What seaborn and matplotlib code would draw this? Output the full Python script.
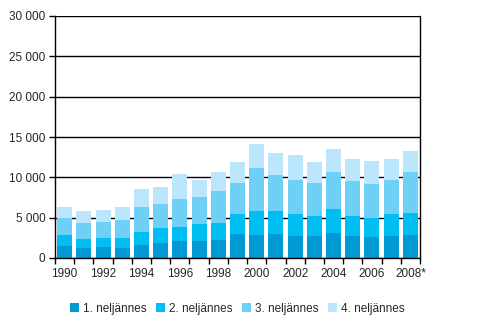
import matplotlib
matplotlib.use("Agg")
import matplotlib.pyplot as plt
import seaborn as sns
import numpy as np
import pandas as pd
from matplotlib.patches import Patch
from matplotlib.ticker import FuncFormatter, FixedLocator

years = [str(y) for y in range(1990, 2008)] + ["2008*"]
q1 = [1490, 1240, 1365, 1240, 1610, 1860, 2110, 2110, 2230, 2975, 2850, 2975, 2730, 2730, 3100, 2730, 2600, 2730, 2850]
q2 = [1360, 1115, 1115, 1240, 1610, 1860, 1730, 2100, 2110, 2480, 2980, 2855, 2725, 2480, 2970, 2480, 2360, 2725, 2730]
q3 = [2110, 1985, 1980, 2230, 3100, 2970, 3470, 3350, 3970, 3845, 5330, 4460, 4215, 4090, 4590, 4335, 4210, 4215, 5080]
q4 = [1360, 1490, 1490, 1610, 2230, 2110, 3100, 2110, 2350, 2600, 2975, 2730, 3100, 2600, 2850, 2725, 2850, 2600, 2600]
series_names = ["1. neljännes", "2. neljännes", "3. neljännes", "4. neljännes"]
colors = ["#0099D3", "#00BEF2", "#6ED0F6", "#BAE5FA"]
yticks = [0, 5000, 10000, 15000, 20000, 25000, 30000]

sns.set_style("white")
plt.rcParams['font.family'] = ['Liberation Sans', 'DejaVu Sans']

df = pd.DataFrame({"year": years, "q1": q1, "q2": q2, "q3": q3, "q4": q4})
df["c1"] = df["q1"]
df["c2"] = df["c1"] + df["q2"]
df["c3"] = df["c2"] + df["q3"]
df["c4"] = df["c3"] + df["q4"]

fig = plt.figure(figsize=(4.95, 3.27), dpi=100)
ax = fig.add_axes([55/495, 1-258/327, 365/495, 242/327])

for col, c in zip(["c4", "c3", "c2", "c1"], colors[::-1]):
    sns.barplot(data=df, x="year", y=col, order=years, color=c, width=0.78,
                linewidth=0, saturation=1, ax=ax, zorder=2)

ax.set_ylim(0, 30000)
ax.set_xlim(-0.5, len(years) - 0.5)
ax.set_yticks(yticks)
ax.yaxis.set_major_formatter(FuncFormatter(lambda v, p: f"{int(v):,}".replace(",", " ")))
ax.grid(axis="y", color="black", linewidth=1, zorder=0)
ax.set_axisbelow(True)
for s in ["left", "bottom", "right"]:
    ax.spines[s].set_visible(True)
    ax.spines[s].set_color("black")
    ax.spines[s].set_linewidth(1)
ax.spines["top"].set_visible(False)

ax.set_xticks(range(0, len(years), 2))
ax.set_xticklabels([years[i] for i in range(0, len(years), 2)])
ax.xaxis.set_minor_locator(FixedLocator(np.arange(-0.5, len(years), 1.0)))
ax.tick_params(axis="x", which="major", length=0, pad=7, labelsize=8.5)
ax.tick_params(axis="x", which="minor", length=4, width=1, color="black", direction="out", bottom=True)
ax.tick_params(axis="y", which="major", length=4, width=1, color="black", direction="out",
               left=True, labelsize=8.5, pad=3)
ax.set_xlabel("")
ax.set_ylabel("")

handles = [Patch(facecolor=c, edgecolor="none") for c in colors]
fig.legend(handles, series_names, loc="center", bbox_to_anchor=(237/495, 1-309/327),
           ncol=4, frameon=False, fontsize=8.5, handlelength=0.8, handleheight=0.8,
           handletextpad=0.3, columnspacing=0.8)

fig.savefig("out.png", dpi=100)
